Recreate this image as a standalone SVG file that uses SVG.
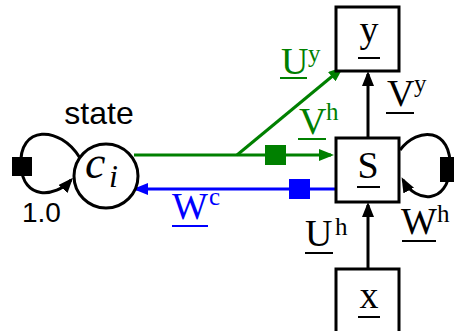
<svg xmlns="http://www.w3.org/2000/svg" width="454" height="331" viewBox="0 0 454 331">
<style>
.box{fill:#fff;stroke:#000;stroke-width:3}
.lbl{font-family:"Liberation Serif","DejaVu Serif",serif;font-size:38px}
.sup{font-family:"Liberation Serif","DejaVu Serif",serif;font-size:25px}
.sans{font-family:"Liberation Sans",Arial,sans-serif}
.ln{fill:none;stroke-width:3}
.ul{stroke-width:2}
</style>
<defs>
<marker id="ak" markerWidth="15" markerHeight="12" refX="12" refY="6" orient="auto" markerUnits="userSpaceOnUse"><path d="M0,0 L15,6 L0,12 z" fill="#000"/></marker>
<marker id="ag" markerWidth="15" markerHeight="12" refX="12" refY="6" orient="auto" markerUnits="userSpaceOnUse"><path d="M0,0 L15,6 L0,12 z" fill="#008000"/></marker>
<marker id="abl" markerWidth="15" markerHeight="12" refX="12" refY="6" orient="auto" markerUnits="userSpaceOnUse"><path d="M0,0 L15,6 L0,12 z" fill="#0000ff"/></marker>
</defs>

<g id="connectors">
  <path class="ln" stroke="#000" d="M80,158 C60,125 18,125 21,166 C23,200 55,198 71,180" marker-end="url(#ak)"/>
  <rect x="12" y="157" width="20" height="19" fill="#000"/>
  <path class="ln" stroke="#008000" d="M134,155 L331,155" marker-end="url(#ag)"/>
  <path class="ln" stroke="#008000" d="M237,155 L341,69" marker-end="url(#ag)"/>
  <rect x="265" y="145" width="21" height="20" fill="#008000"/>
  <path class="ln" stroke="#0000ff" d="M336,189 L136,189" marker-end="url(#abl)"/>
  <rect x="289" y="179" width="21" height="20" fill="#0000ff"/>
  <path class="ln" stroke="#000" d="M368,138 L368,74" marker-end="url(#ak)"/>
  <path class="ln" stroke="#000" d="M368,268 L368,205" marker-end="url(#ak)"/>
  <path class="ln" stroke="#000" d="M400,150 C418,126 452,128 450,168 C448,204 416,204 403,180" marker-end="url(#ak)"/>
  <rect x="440" y="157" width="16" height="25" fill="#000"/>
</g>

<g id="state">
  <circle cx="106" cy="176" r="32" fill="#fff" stroke="#000" stroke-width="3"/>
  <text x="85" y="178" font-family="'Liberation Serif','DejaVu Serif',serif" font-style="italic" font-size="46">c</text>
  <text x="109" y="187" font-family="'Liberation Serif','DejaVu Serif',serif" font-style="italic" font-size="32">i</text>
  <text class="sans" x="99" y="124" font-size="32" text-anchor="middle">state</text>
  <text class="sans" x="22" y="222" font-size="28">1.0</text>
</g>

<g id="node-y">
  <rect class="box" x="336" y="7" width="63" height="64"/>
  <text class="lbl" x="369" y="42" text-anchor="middle">y</text>
  <line class="ul" stroke="#000" x1="358" y1="58" x2="380" y2="58"/>
</g>

<g id="node-S">
  <rect class="box" x="336" y="138" width="63" height="64"/>
  <text class="lbl" x="368" y="178" text-anchor="middle">S</text>
  <line class="ul" stroke="#000" x1="357" y1="187" x2="380" y2="187"/>
</g>

<g id="node-x">
  <rect class="box" x="336" y="269" width="63" height="66"/>
  <text class="lbl" x="369" y="308" text-anchor="middle">x</text>
  <line class="ul" stroke="#000" x1="358" y1="317" x2="380" y2="317"/>
</g>

<g id="labels">
  <g fill="#008000">
    <text class="lbl" x="281" y="74">U</text>
    <text class="sup" x="308" y="62">y</text>
    <line class="ul" stroke="#008000" x1="280" y1="78" x2="307" y2="78"/>
    <text class="lbl" x="299" y="134">V</text>
    <text class="sup" x="326" y="120">h</text>
    <line class="ul" stroke="#008000" x1="298" y1="139" x2="326" y2="139"/>
  </g>
  <g fill="#0000ff">
    <text class="lbl" x="172" y="219">W</text>
    <text class="sup" x="209" y="205">c</text>
    <line class="ul" stroke="#0000ff" x1="172" y1="226" x2="208" y2="226"/>
  </g>
  <g fill="#000">
    <text class="lbl" x="387" y="106">V</text>
    <text class="sup" x="414" y="92">y</text>
    <line class="ul" stroke="#000" x1="386" y1="113" x2="414" y2="113"/>
    <text class="lbl" x="305" y="246">U</text>
    <text class="sup" x="335" y="235">h</text>
    <line class="ul" stroke="#000" x1="305" y1="253" x2="333" y2="253"/>
    <text class="lbl" x="401" y="234">W</text>
    <text class="sup" x="437" y="222">h</text>
    <line class="ul" stroke="#000" x1="402" y1="241" x2="436" y2="241"/>
  </g>
</g>
</svg>
